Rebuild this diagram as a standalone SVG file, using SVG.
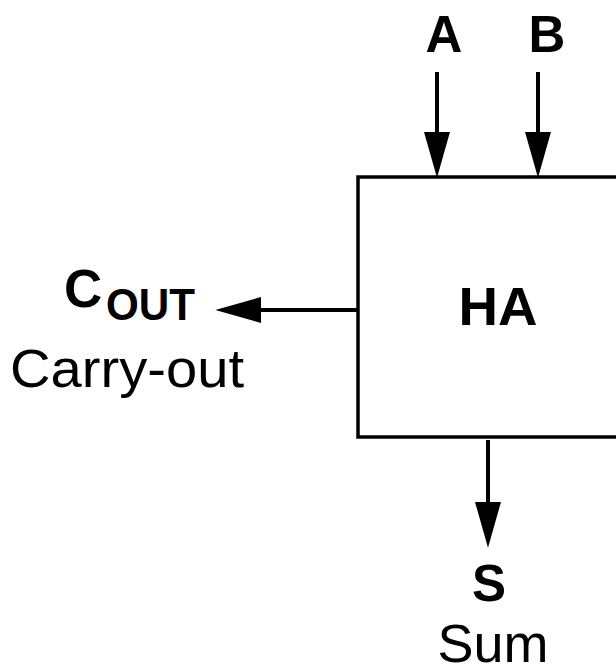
<svg xmlns="http://www.w3.org/2000/svg" width="616" height="668" viewBox="0 0 616 668">
  <style>
    .lbl { font-family: "Liberation Sans", Arial, sans-serif; fill: #000; }
    .b { font-weight: bold; }
    .wire { stroke: #000; stroke-width: 4; fill: none; }
    .box { stroke: #000; stroke-width: 3.5; fill: #fff; }
  </style>
  <defs>
    <marker id="arrow" markerUnits="userSpaceOnUse" markerWidth="46" markerHeight="26" viewBox="0 0 44 25" refX="2" refY="12.5" orient="auto">
      <path d="M0,0 L44,12.5 L0,25 z" fill="#000"/>
    </marker>
  </defs>
  <rect width="616" height="668" fill="#fff"/>
  <g id="ha">
    <rect class="box" x="358" y="177" width="300" height="260"/>
    <text class="lbl b" x="498" y="325" font-size="53" text-anchor="middle" textLength="79" lengthAdjust="spacingAndGlyphs">HA</text>
  </g>
  <g id="input-a">
    <text class="lbl b" x="444" y="52" font-size="51" text-anchor="middle">A</text>
  </g>
  <g id="input-b">
    <text class="lbl b" x="547" y="52" font-size="51" text-anchor="middle">B</text>
  </g>
  <g id="output-cout">
    <text class="lbl b" x="64" y="307" font-size="53">C</text>
    <text class="lbl b" x="106" y="320" font-size="44" textLength="89" lengthAdjust="spacingAndGlyphs">OUT</text>
    <text class="lbl" x="10" y="387" font-size="54" textLength="234" lengthAdjust="spacingAndGlyphs">Carry-out</text>
  </g>
  <g id="output-s">
    <text class="lbl b" x="489" y="601" font-size="51" text-anchor="middle">S</text>
    <text class="lbl" x="493" y="662" font-size="54" text-anchor="middle">Sum</text>
  </g>
  <g id="connectors">
    <line class="wire" x1="437" y1="72" x2="437" y2="134" marker-end="url(#arrow)"/>
    <line class="wire" x1="538" y1="72" x2="538" y2="134" marker-end="url(#arrow)"/>
    <line class="wire" x1="488" y1="440" x2="488" y2="504" marker-end="url(#arrow)"/>
    <line class="wire" x1="357" y1="310" x2="259" y2="310" marker-end="url(#arrow)"/>
  </g>
</svg>
